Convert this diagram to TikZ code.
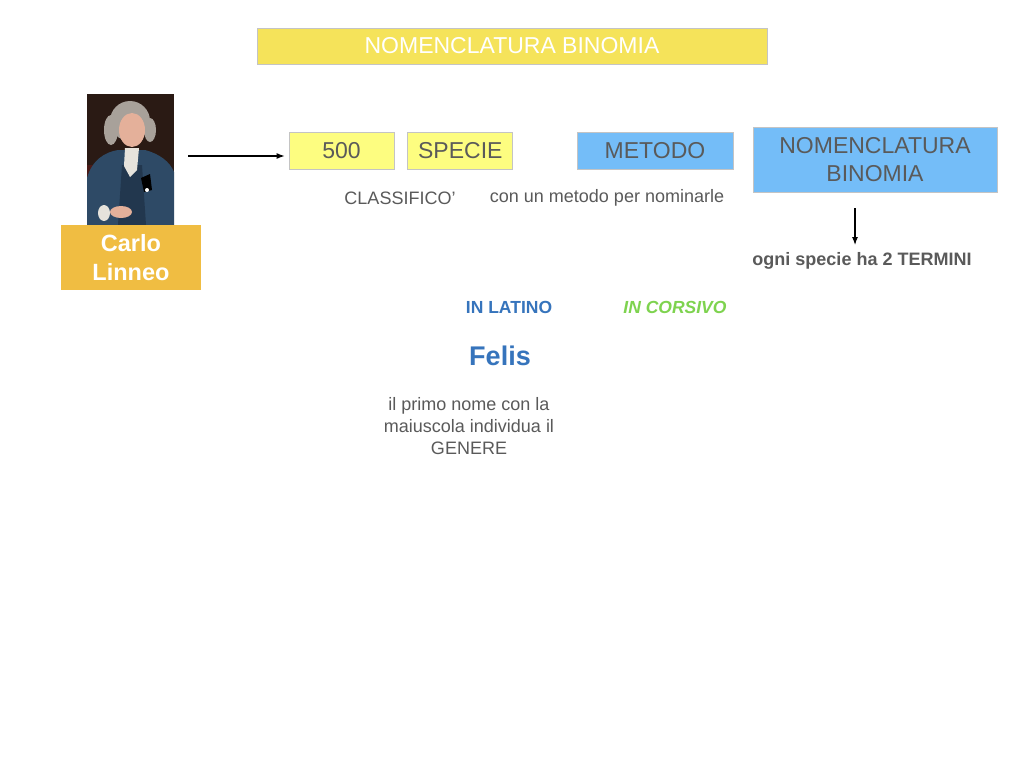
\documentclass[tikz,border=0pt]{standalone}
\usepackage{fontspec}
\setmainfont{Liberation Sans}
\usetikzlibrary{positioning,arrows.meta}
\definecolor{titleyellow}{HTML}{F5E35A}
\definecolor{paleyellow}{HTML}{FDFD80}
\definecolor{skyblue}{HTML}{74BDF8}
\definecolor{linneoyellow}{HTML}{F0BD42}
\definecolor{boxborder}{HTML}{C4C4C4}
\definecolor{textgray}{HTML}{5A5A5A}
\definecolor{latinblue}{HTML}{3674BC}
\definecolor{corsivogreen}{HTML}{7ED34F}
\definecolor{paintingback}{HTML}{2A1A14}
\definecolor{paintingchair}{HTML}{4A1A16}
\definecolor{coatblue}{HTML}{2E4A66}
\definecolor{vestblue}{HTML}{22374E}
\definecolor{wiggray}{HTML}{A8A19A}
\definecolor{skin}{HTML}{E4B09A}
\definecolor{lace}{HTML}{E6E3DC}
\begin{document}
\begin{tikzpicture}[x=1pt,y=-1pt,
    box/.style={draw=boxborder,line width=0.8pt,inner sep=0,align=center,text=textgray},
    note/.style={inner sep=0,align=center,text=textgray},
    arrow/.style={-{Latex[length=8pt,width=6pt]},line width=1.1pt}]
    \pgfmathsetmacro{\boxheight}{37}
    \pgfmathsetmacro{\smallboxwidth}{105}
    \providecommand{\boxfontsize}{\fontsize{23}{28}\selectfont}
    \providecommand{\notefontsize}{\fontsize{18}{22}\selectfont}
    \useasboundingbox (0,0) rectangle (1024,768);
    \fill[white] (0,0) rectangle (1024,768);
    \node[box,fill=titleyellow,text=white,minimum width=510pt,minimum height=36pt,font=\boxfontsize] (title) at (512,46) {NOMENCLATURA BINOMIA};
    % portrait
    \node[minimum width=87pt,minimum height=131pt,inner sep=0] (portrait) at (130.5,159.5) {};
    \begin{scope}
        \clip (87,94) rectangle (174,225);
        \fill[paintingback] (87,94) rectangle (174,225);
        \fill[paintingchair] (87,165) rectangle (100,215);
        \fill[coatblue] (87,225) -- (87,178) .. controls (92,160) and (105,152) .. (118,150) -- (145,150) .. controls (160,154) and (170,162) .. (174,172) -- (174,225) -- cycle;
        \fill[vestblue] (122,165) -- (142,165) -- (146,225) -- (118,225) -- cycle;
        \fill[wiggray] (130,121) ellipse (20 and 20);
        \fill[wiggray] (111,130) ellipse (7 and 15);
        \fill[wiggray] (150,130) ellipse (6 and 12);
        \fill[skin] (132,130) ellipse (13 and 17);
        \fill[lace] (125,148) -- (139,148) -- (137,170) -- (130,177) -- (124,166) -- cycle;
        \fill[black] (141,178) -- (150,174) -- (152,190) -- (144,192) -- cycle;
        \fill[white] (147,190) circle (2);
        \fill[skin] (121,212) ellipse (11 and 6);
        \fill[lace] (104,213) ellipse (6 and 8);
    \end{scope}
    \node[fill=linneoyellow,text=white,inner sep=0,minimum width=140pt,minimum height=65pt,align=center,font=\fontsize{23.5}{29}\selectfont\bfseries,below=0pt of portrait,xshift=0.5pt] (linneo) {Carlo\\Linneo};
    % boxes
    \node[box,fill=paleyellow,minimum width=\smallboxwidth pt,minimum height=\boxheight pt,font=\boxfontsize] (n500) at (341.5,150.5) {500};
    \node[box,fill=paleyellow,minimum width=\smallboxwidth pt,minimum height=\boxheight pt,font=\boxfontsize,right=13pt of n500] (specie) {SPECIE};
    \node[box,fill=skyblue,minimum width=156pt,minimum height=\boxheight pt,font=\boxfontsize] (metodo) at (655,150.5) {METODO};
    \node[box,fill=skyblue,minimum width=244pt,minimum height=65pt,font=\fontsize{23}{28}\selectfont] (nomen) at (875,159.5) {NOMENCLATURA\\BINOMIA};
    \draw[arrow,shorten <=14pt,shorten >=4pt] (portrait.east |- 0,156) -- (n500.west |- 0,156);
    % notes
    \node[note,font=\notefontsize] (classifico) at (400,198) {CLASSIFICO'};
    \node[note,font=\notefontsize] (metodonote) at (607,198) {con un metodo per nominarle};
    \node[note,font=\notefontsize\bfseries] (ogni) at (862,261) {ogni specie ha 2 TERMINI};
    \coordinate (dstart) at (855,208);
    \coordinate (dend) at (855,245);
    \draw[arrow] (dstart) -- (dend);
    \node[inner sep=0,text=latinblue,font=\fontsize{17.5}{21}\selectfont\bfseries] (latino) at (509,307) {IN LATINO};
    \node[inner sep=0,text=corsivogreen,font=\fontsize{17.5}{21}\selectfont\bfseries\itshape] (corsivo) at (675,307) {IN CORSIVO};
    \node[inner sep=0,text=latinblue,font=\fontsize{27}{32}\selectfont\bfseries] (felis) at (500,356) {Felis};
    \node[note,font=\notefontsize] (genere) at (469,426) {il primo nome con la\\maiuscola individua il\\GENERE};
\end{tikzpicture}
\end{document}
